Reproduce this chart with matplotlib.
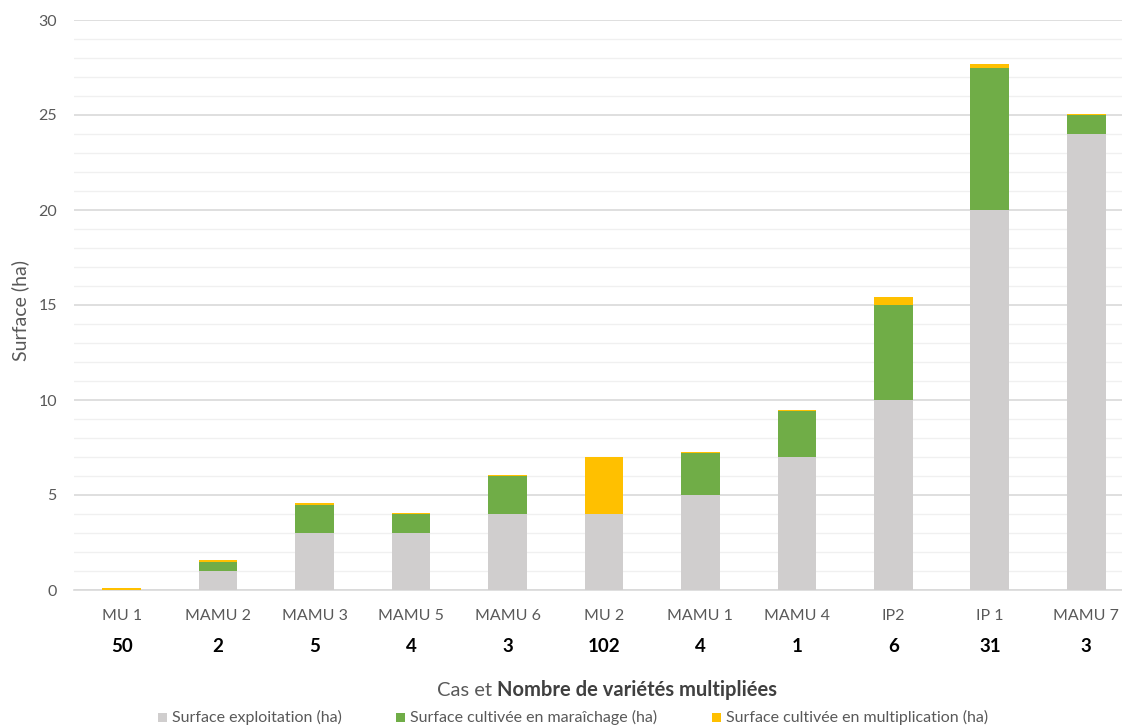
import matplotlib
matplotlib.use("Agg")
import matplotlib.pyplot as plt
from matplotlib.patches import Rectangle
import numpy as np

plt.rcParams['font.family'] = ['Lato', 'DejaVu Sans']

cases = ["MU 1", "MAMU 2", "MAMU 3", "MAMU 5", "MAMU 6", "MU 2",
         "MAMU 1", "MAMU 4", "IP2", "IP 1", "MAMU 7"]
nb_varietes = ["50", "2", "5", "4", "3", "102", "4", "1", "6", "31", "3"]
surf_exploitation = [0.02, 1, 3, 3, 4, 4, 5, 7, 10, 20, 24]
surf_maraichage = [0, 0.5, 1.5, 1, 2, 0, 2.2, 2.4, 5, 7.5, 1]
surf_multiplication = [0.1, 0.06, 0.06, 0.06, 0.06, 3, 0.06, 0.06, 0.4, 0.2, 0.06]
series_names = ["Surface exploitation (ha)",
                "Surface cultivée en maraîchage (ha)",
                "Surface cultivée en multiplication (ha)"]
colors = ["#D0CECE", "#70AD47", "#FFC000"]

W, H = 1122, 728
fig = plt.figure(figsize=(W / 100, H / 100), dpi=100)
left_px, right_px = 73.5, 73.5 + 11 * 96.45
top_px, bot_px = 20, 590
ax = fig.add_axes([left_px / W, 1 - bot_px / H, (right_px - left_px) / W, (bot_px - top_px) / H])

x = np.arange(len(cases))
bw = 0.40
e = np.array(surf_exploitation)
m = np.array(surf_maraichage)
p = np.array(surf_multiplication)
ax.bar(x, e, bw, color=colors[0], zorder=3)
ax.bar(x, m, bw, bottom=e, color=colors[1], zorder=3)
ax.bar(x, p, bw, bottom=e + m, color=colors[2], zorder=3)

ax.set_xlim(-0.5, len(cases) - 0.5)
ax.set_ylim(0, 30)
ax.set_yticks(np.arange(0, 31, 5))
ax.set_yticks(np.arange(0, 31, 1), minor=True)
ax.grid(axis='y', which='major', color='#D9D9D9', linewidth=1.2, zorder=0)
ax.grid(axis='y', which='minor', color='#F0F0F0', linewidth=1.0, zorder=0)
for s in ['top', 'right', 'left']:
    ax.spines[s].set_visible(False)
ax.spines['bottom'].set_color('#D9D9D9')
ax.spines['bottom'].set_linewidth(1.2)
ax.tick_params(axis='y', which='both', length=0, labelsize=11.5, labelcolor='#595959', pad=12)
ax.tick_params(axis='x', length=0, labelsize=11.5, labelcolor='#595959', pad=14)
ax.set_xticks(x)
ax.set_xticklabels(cases)

trans = ax.get_xaxis_transform()
for xi, n in zip(x, nb_varietes):
    ax.text(xi, -(647 - bot_px) / (bot_px - top_px), n, transform=trans, ha='center', va='center',
            fontsize=13.5, fontweight='bold', color='#000000')

# y-axis title
fig.text(20 / W, 1 - 310 / H, "Surface (ha)", rotation=90, fontsize=14,
         color='#595959', ha='center', va='center')

# x-axis title with mixed weight
ty = 1 - 690 / H
t1 = fig.text(437 / W, ty, "Cas et ", fontsize=14.5, color='#595959', ha='left', va='center')
t2 = fig.text(0.5, ty, "Nombre de variétés multipliées", fontsize=14.5, fontweight='bold',
              color='#404040', ha='left', va='center')
fig.canvas.draw()
r = fig.canvas.get_renderer()
w1 = t1.get_window_extent(r).width
t2.set_x((437 + w1) / W)

# legend, items placed along the bottom line
ly = 717
sq_x = [158, 396, 712]
tx_x = [172, 410, 726]
sq = 9
for sx, tx, c, name in zip(sq_x, tx_x, colors, series_names):
    fig.patches.append(Rectangle((sx / W, 1 - (ly + sq / 2) / H), sq / W, sq / H,
                                 transform=fig.transFigure, facecolor=c, edgecolor='none'))
    fig.text(tx / W, 1 - ly / H, name, fontsize=11.5, color='#595959', ha='left', va='center')

fig.savefig("out.png", dpi=100)
